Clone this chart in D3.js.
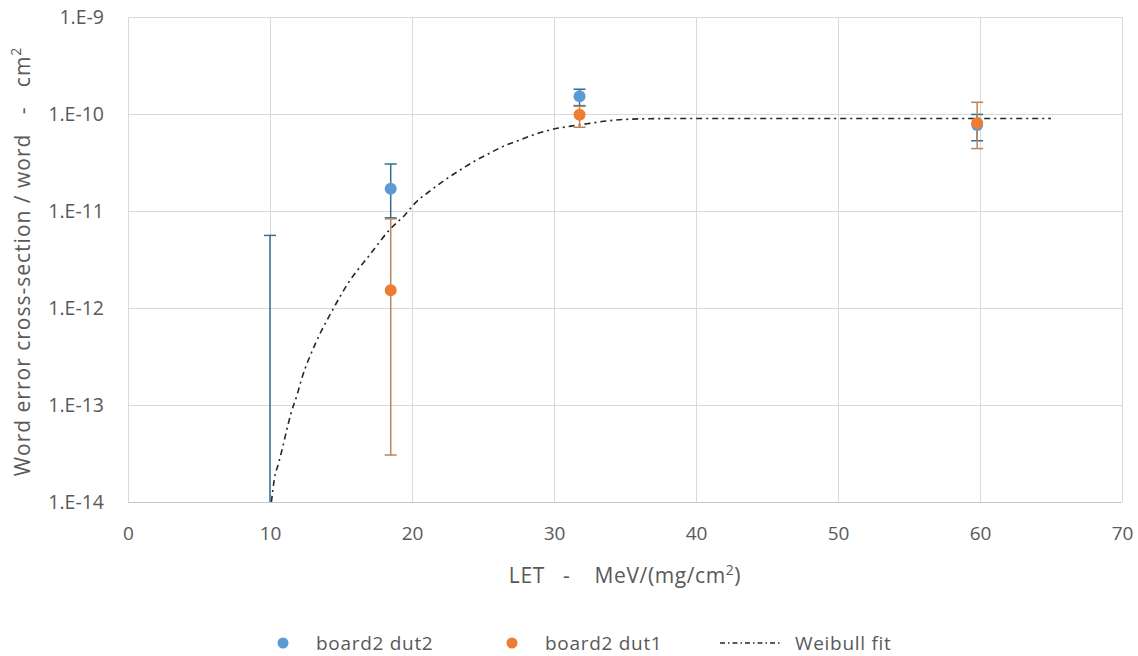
<!DOCTYPE html>
<html>
<head>
<meta charset="utf-8">
<script src="https://cdn.jsdelivr.net/npm/d3@7"></script>
<style>
  html, body { margin: 0; padding: 0; background: #fff; }
  svg { display: block; }
  text { font-family: "Open Sans", Lato, sans-serif; fill: #595959; }
</style>
</head>
<body>
<svg id="chart" width="1138" height="656"></svg>
<script>
// ---- data ----
const xTicks = [0, 10, 20, 30, 40, 50, 60, 70];
const yTicks = [1e-14, 1e-13, 1e-12, 1e-11, 1e-10, 1e-9];
const yTickLabels = ["1.E-14", "1.E-13", "1.E-12", "1.E-11", "1.E-10", "1.E-9"];

// board2 dut2 (blue)
const dut2X    = [10,     18.5,    31.8,    59.8];
const dut2Y    = [1e-16,  1.7e-11, 1.52e-10, 7.7e-11];
const dut2Lo   = [1e-17,  8.5e-12, 1.22e-10, 5.3e-11];
const dut2Hi   = [5.6e-12, 3.05e-11, 1.8e-10, 9.9e-11];

// board2 dut1 (orange)
const dut1X    = [18.5,    31.8,    59.8];
const dut1Y    = [1.52e-12, 9.8e-11, 8.1e-11];
const dut1Lo   = [3.05e-14, 7.3e-11, 4.4e-11];
const dut1Hi   = [8.3e-12, 1.2e-10, 1.32e-10];

// Weibull fit
const fitX = [10.1, 10.3, 10.6, 10.9, 11.2, 11.5, 11.9, 12.2, 13.2, 14.4, 15.5, 17.0, 18.5, 19.5, 20.2,
              21.2, 22.2, 23.3, 24.3, 25.4, 26.5, 27.6, 28.7, 29.9, 31.2, 32.5, 33.8, 35, 37, 40, 50, 65];
const fitY = [1.0e-14, 1.7e-14, 2.5e-14, 3.7e-14, 5.7e-14, 8.4e-14, 1.26e-13, 1.8e-13, 4.3e-13, 9.5e-13,
              1.8e-12, 3.5e-12, 6.6e-12, 9.1e-12, 1.2e-11, 1.58e-11, 2.03e-11, 2.6e-11, 3.2e-11, 3.9e-11,
              4.7e-11, 5.4e-11, 6.2e-11, 6.95e-11, 7.5e-11, 8.0e-11, 8.5e-11, 8.8e-11, 8.95e-11, 9.0e-11, 9.0e-11, 9.0e-11];

const seriesNames = ["board2 dut2", "board2 dut1", "Weibull fit"];

// ---- layout ----
const L = 128, R = 1122, T = 17, B = 502;
const blue = "#5B9BD5", orange = "#ED7D31";
const blueErr = "#2F6F8F", orangeErr = "#B8865B";

const svg = d3.select("#chart");
const x = d3.scaleLinear().domain([0, 70]).range([L, R]);
const y = d3.scaleLog().domain([1e-14, 1e-9]).range([B, T]);

svg.append("defs").append("clipPath").attr("id", "plotclip")
  .append("rect").attr("x", L - 10).attr("y", T - 10).attr("width", R - L + 20).attr("height", B - T + 10);

// gridlines
const grid = svg.append("g");
grid.selectAll("line.v").data(xTicks).join("line")
  .attr("x1", d => Math.round(x(d)) + 0.5).attr("x2", d => Math.round(x(d)) + 0.5)
  .attr("y1", T).attr("y2", B)
  .attr("stroke", "#d9d9d9").attr("stroke-width", 1);
grid.selectAll("line.h").data(yTicks).join("line")
  .attr("x1", L).attr("x2", R)
  .attr("y1", d => Math.round(y(d)) + 0.5).attr("y2", d => Math.round(y(d)) + 0.5)
  .attr("stroke", d => d === 1e-14 ? "#c8c8c8" : "#d9d9d9").attr("stroke-width", 1);

// axes (labels only)
const xAxis = d3.axisBottom(x).tickValues(xTicks).tickSize(0).tickPadding(0);
svg.append("g").attr("transform", `translate(0,540)`).call(xAxis)
  .call(g => g.select(".domain").remove())
  .call(g => g.selectAll("text").attr("font-size", 19).attr("font-family", "Lato, sans-serif")
    .attr("fill", "#595959").attr("dy", 0).attr("y", 0));

const yAxis = d3.axisLeft(y).tickValues(yTicks).tickFormat((d, i) => yTickLabels[i]).tickSize(0).tickPadding(0);
svg.append("g").attr("transform", `translate(104,0)`).call(yAxis)
  .call(g => g.select(".domain").remove())
  .call(g => g.selectAll("text").attr("font-size", 19.5).attr("font-family", "Lato, sans-serif").attr("fill", "#595959"));

// axis titles
const xt = svg.append("text").attr("x", (L + R) / 2).attr("y", 583).attr("text-anchor", "middle")
  .attr("font-size", 21).attr("letter-spacing", 0.6).attr("xml:space", "preserve");
xt.append("tspan").text("LET   -    MeV/(mg/cm");
xt.append("tspan").attr("font-size", 14).attr("dy", -8).text("2");
xt.append("tspan").attr("dy", 8).text(")");

const yt = svg.append("text").attr("transform", `translate(30,${(T + B) / 2 + 2}) rotate(-90)`)
  .attr("text-anchor", "middle").attr("font-size", 21).attr("letter-spacing", 1.0).attr("xml:space", "preserve");
yt.append("tspan").text("Word error cross-section / word   -   cm");
yt.append("tspan").attr("font-size", 14).attr("dy", -9).text("2");

const plot = svg.append("g").attr("clip-path", "url(#plotclip)");

// fit line
const fitData = fitX.map((v, i) => [v, fitY[i]]);
plot.append("path").datum(fitData)
  .attr("d", d3.line().x(d => x(d[0])).y(d => y(d[1])).curve(d3.curveMonotoneX))
  .attr("fill", "none").attr("stroke", "#262626").attr("stroke-width", 1.6)
  .attr("stroke-dasharray", "6,4,2,4");

function drawSeries(xs, ys, lo, hi, color, errColor) {
  const data = xs.map((v, i) => ({x: v, y: ys[i], lo: lo[i], hi: hi[i]}));
  const g = plot.append("g");
  const cap = 6;
  g.selectAll("line.bar").data(data).join("line")
    .attr("x1", d => x(d.x)).attr("x2", d => x(d.x))
    .attr("y1", d => y(Math.max(d.lo, 1e-15))).attr("y2", d => y(d.hi))
    .attr("stroke", errColor).attr("stroke-width", 1.5);
  g.selectAll("line.top").data(data).join("line")
    .attr("x1", d => x(d.x) - cap).attr("x2", d => x(d.x) + cap)
    .attr("y1", d => y(d.hi)).attr("y2", d => y(d.hi))
    .attr("stroke", errColor).attr("stroke-width", 1.5);
  g.selectAll("line.bot").data(data.filter(d => d.lo >= 1e-14)).join("line")
    .attr("x1", d => x(d.x) - cap).attr("x2", d => x(d.x) + cap)
    .attr("y1", d => y(d.lo)).attr("y2", d => y(d.lo))
    .attr("stroke", errColor).attr("stroke-width", 1.5);
  g.selectAll("circle").data(data.filter(d => d.y >= 1e-14)).join("circle")
    .attr("cx", d => x(d.x)).attr("cy", d => y(d.y)).attr("r", 6)
    .attr("fill", color);
}
drawSeries(dut2X, dut2Y, dut2Lo, dut2Hi, blue, blueErr);
drawSeries(dut1X, dut1Y, dut1Lo, dut1Hi, orange, orangeErr);

// legend
const lg = svg.append("g").attr("font-size", 19).attr("letter-spacing", 0.7);
const ly = 643;
lg.append("circle").attr("cx", 283).attr("cy", ly).attr("r", 5.5).attr("fill", blue);
lg.append("text").attr("x", 316).attr("y", ly).attr("dy", "0.35em").text(seriesNames[0]);
lg.append("circle").attr("cx", 512).attr("cy", ly).attr("r", 5.5).attr("fill", orange);
lg.append("text").attr("x", 545).attr("y", ly).attr("dy", "0.35em").text(seriesNames[1]);
lg.append("line").attr("x1", 720).attr("x2", 782).attr("y1", ly).attr("y2", ly)
  .attr("stroke", "#262626").attr("stroke-width", 1.4).attr("stroke-dasharray", "5,3,1.5,3");
lg.append("text").attr("x", 795).attr("y", ly).attr("dy", "0.35em").text(seriesNames[2]);
</script>
</body>
</html>
